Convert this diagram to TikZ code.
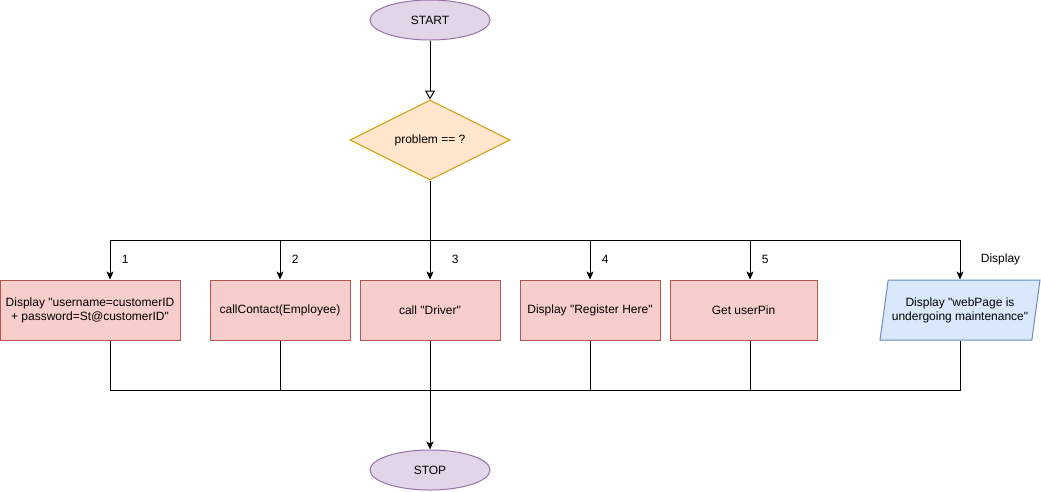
\documentclass[tikz,border=0pt]{standalone}
\usepackage{fontspec}
\setmainfont{Liberation Sans}[Ligatures=TeXOff]
\usetikzlibrary{shapes.geometric,arrows.meta}

\definecolor{termfill}{HTML}{E1D5E7}
\definecolor{termline}{HTML}{9673A6}
\definecolor{decfill}{HTML}{FFE6CC}
\definecolor{decline}{HTML}{D79B00}
\definecolor{procfill}{HTML}{F8CECC}
\definecolor{procline}{HTML}{B85450}
\definecolor{iofill}{HTML}{DAE8FC}
\definecolor{ioline}{HTML}{6C8EBF}

\begin{document}
\begin{tikzpicture}[x=1pt, y=-1pt, line width=1pt,
    font=\fontsize{12}{14}\selectfont,
    >={Stealth[length=8pt, width=7pt, inset=2pt]},
    term/.style={ellipse, draw=termline, fill=termfill, minimum width=120pt, minimum height=40pt, inner sep=0pt},
    decide/.style={diamond, draw=decline, fill=decfill, minimum width=160pt, minimum height=80pt, aspect=2, inner sep=0pt},
    proc/.style={rectangle, draw=procline, fill=procfill, minimum height=60pt, align=center, inner sep=0pt},
    io/.style={trapezium, trapezium left angle=72, trapezium right angle=108, trapezium stretches body,
        draw=ioline, fill=iofill, minimum width=160pt, minimum height=60pt, align=center, inner sep=0pt}]
    \useasboundingbox (0,0) rectangle (1041,491);

    % Draw the start and the question
    \node[term] (start) at (430,20) {START};
    \node[decide] (prob) at (430,140) {problem == ?};

    % Draw the cases
    \node[proc, minimum width=180pt] (case1) at (90,310) {Display "username=customerID\\+ password=St@customerID"};
    \node[proc, minimum width=140pt] (case2) at (280,310) {callContact(Employee)};
    \node[proc, minimum width=140pt] (case3) at (430,310) {call "Driver"};
    \node[proc, minimum width=140pt] (case4) at (590,310) {Display "Register Here"};
    \node[proc, minimum width=147pt] (case5) at (743.5,310) {Get userPin};
    \node[io] (case6) at (960,310) {Display "webPage is\\undergoing maintenance"};

    \node[term] (stop) at (430,470) {STOP};

    % Points on the two buses
    \coordinate (in1) at (110,240);
    \coordinate (in2) at (280,240);
    \coordinate (in3) at (430,240);
    \coordinate (in4) at (590,240);
    \coordinate (in5) at (750,240);
    \coordinate (in6) at (960,240);
    \coordinate (out1) at (110,390);
    \coordinate (out6) at (960,390);

    % Connect start to question
    \draw[-{Triangle[open, length=9pt, width=10pt]}] (start) -- (prob);

    % Top bus and arrows into the cases
    \draw (prob) -- (in3);
    \draw (in1) -- (in6);
    \draw[->] (in1) -- (in1 |- case1.north) node[midway, right=8pt] {1};
    \draw[->] (in2) -- (case2) node[midway, right=8pt] {2};
    \draw[->] (in3) -- (case3) node[midway, right=18pt] {3};
    \draw[->] (in4) -- (case4) node[midway, right=8pt] {4};
    \draw[->] (in5) -- (in5 |- case5.north) node[midway, right=8pt] {5};
    \draw[->] (in6) -- (case6) node[midway, right=17pt] {Display};

    % Bottom bus and the stop
    \draw (case1.south -| out1) -- (out1) -- (out6) -- (case6.south -| out6);
    \draw (case2.south) -- (case2.south |- out1);
    \draw (case4.south) -- (case4.south |- out1);
    \draw (case5.south -| in5) -- (in5 |- out1);
    \draw[->] (case3) -- (stop);
\end{tikzpicture}
\end{document}
